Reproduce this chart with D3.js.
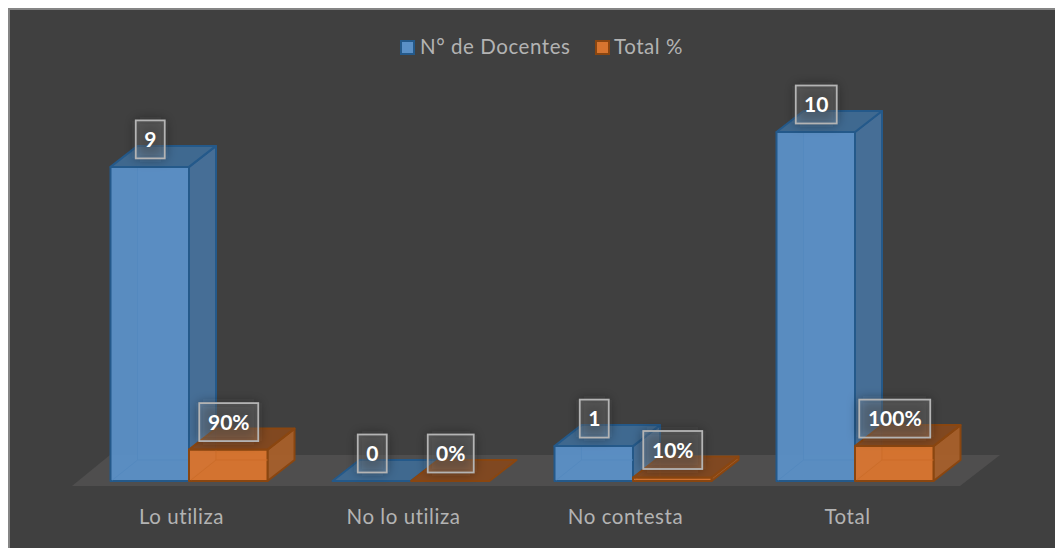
<!DOCTYPE html>
<html><head><meta charset="utf-8">
<script src="https://cdn.jsdelivr.net/npm/d3@7/dist/d3.min.js"></script>
<style>html,body{margin:0;padding:0;background:#fff;overflow:hidden}svg{display:block}text{font-variant-ligatures:none}</style>
</head><body>
<svg id="c" width="1055" height="548"></svg>
<script>
const categories = ["Lo utiliza","No lo utiliza","No contesta","Total"];
const seriesNames = ["N° de Docentes","Total %"];
const docentes = [9,0,1,10];
const totalPct = [0.9,0,0.1,1];
const docentesLabels = ["9","0","1","10"];
const totalLabels = ["90%","0%","10%","100%"];
const FONT = "Lato, 'Open Sans', sans-serif";
const palettes = [
 {front:"#5b90c6",side:"#47719a",top:"#3f6a92",edge:"#24598a",inner:"#5489bf"},
 {front:"#d8752f",side:"#a8602a",top:"#83481f",edge:"#8a4610",inner:"#cd6d29"}
];
const svg = d3.select("#c");
const defs = svg.append("defs");
defs.append("filter").attr("id","soft").attr("x","-60%").attr("y","-60%").attr("width","220%").attr("height","220%")
  .append("feGaussianBlur").attr("stdDeviation",6);

svg.append("rect").attr("x",9).attr("y",9).attr("width",1060).attr("height",560)
  .attr("fill","#404040").attr("stroke","#858585").attr("stroke-width",2);

const x0 = d3.scaleBand().domain(categories).range([72,960]);
const x1 = d3.scaleBand().domain([0,1]).range([38.5,195.5]);
const y = d3.scaleLinear().domain([0,10]).range([481,132]);
const dx = 27, dy = -21;

// floor
const floorY0 = 486, floorY1 = 455, floorDx = 40;
svg.append("path").attr("fill","#4f4e4e")
  .attr("d",d3.line()([[x0.range()[0],floorY0],[x0.range()[1],floorY0],[x0.range()[1]+floorDx,floorY1],[x0.range()[0]+floorDx-2,floorY1]])+"Z");

const rows = [];
categories.forEach((c,i)=>{
  rows.push({c,s:0,v:docentes[i],lab:docentesLabels[i]});
  rows.push({c,s:1,v:totalPct[i],lab:totalLabels[i]});
});
const w = x1.bandwidth();
const poly = pts => d3.line()(pts)+"Z";

const bars = svg.append("g").selectAll("g").data(rows).join("g");
bars.each(function(d){
  const g = d3.select(this), p = palettes[d.s];
  const l = x0(d.c)+x1(d.s), r = l+w, b = y(0), t = y(d.v);
  const face = (pts,fill,op)=>g.append("path").attr("d",poly(pts)).attr("fill",fill).attr("fill-opacity",op)
     .attr("stroke",p.edge).attr("stroke-width",2).attr("stroke-linejoin","round");
  if (d.v>0){
    g.append("path").attr("d",poly([[l+dx,b+dy],[r+dx,b+dy],[r+dx,t+dy],[l+dx,t+dy]])).attr("fill",p.front).attr("fill-opacity",.25);
    face([[r,b],[r+dx,b+dy],[r+dx,t+dy],[r,t]],p.side,.92);
    face([[l,b],[r,b],[r,t],[l,t]],p.front,.96);
    g.append("path").attr("d",d3.line()([[l+dx,t],[l+dx,b+dy],[r,b+dy]])).attr("fill","none").attr("stroke",p.inner).attr("stroke-width",1);
    g.append("path").attr("d",d3.line()([[l+dx,b+dy],[l+2,b-1]])).attr("fill","none").attr("stroke",p.inner).attr("stroke-width",1);
  }
  face([[l,t],[r,t],[r+dx,t+dy],[l+dx,t+dy]],p.top,.95);
});

// data labels
const lab = svg.append("g").selectAll("g").data(rows).join("g")
  .attr("transform",d=>`translate(${x0(d.c)+x1(d.s)+w/2+0.5},${y(d.v)-27.5})`);
const boxW = d=>d.lab.length===1?29:d.lab==="0%"?46:d.lab==="100%"?71:d.lab==="10"?41:59;
lab.append("rect").attr("x",d=>-boxW(d)/2).attr("y",-19).attr("width",boxW).attr("height",38)
  .attr("fill","#222").attr("fill-opacity",.5).attr("filter","url(#soft)");
lab.append("rect").attr("x",d=>-boxW(d)/2).attr("y",-19).attr("width",boxW).attr("height",38)
  .attr("fill","#ffffff").attr("fill-opacity",.13).attr("stroke","#b4b4b4").attr("stroke-width",1.8);
lab.append("text").attr("text-anchor","middle").attr("dy","0.36em")
  .attr("fill","#fff").attr("font-family",FONT).attr("font-weight",700).attr("font-size",21).text(d=>d.lab);

// axis labels
const axis = d3.axisBottom(x0).tickSize(0).tickPadding(0);
const ag = svg.append("g").attr("transform","translate(-1.5,512)").call(axis);
ag.select(".domain").remove();
ag.selectAll("text").attr("fill","#b3b3b3").attr("font-family",FONT).attr("font-size",20.5).attr("letter-spacing",0.55).attr("dy","0.6em");

// legend
const legendX = [401,596], legendTextX = [420,614];
const leg = svg.append("g").selectAll("g").data(seriesNames).join("g");
leg.append("rect").attr("x",(d,i)=>legendX[i]).attr("y",41).attr("width",13).attr("height",13)
  .attr("fill",(d,i)=>palettes[i].front).attr("stroke",(d,i)=>palettes[i].edge).attr("stroke-width",2);
leg.append("text").attr("x",(d,i)=>legendTextX[i]).attr("y",53.5).attr("fill","#b3b3b3")
  .attr("font-family",FONT).attr("font-size",20.5).attr("letter-spacing",0.55).text(d=>d);
</script>
</body></html>
